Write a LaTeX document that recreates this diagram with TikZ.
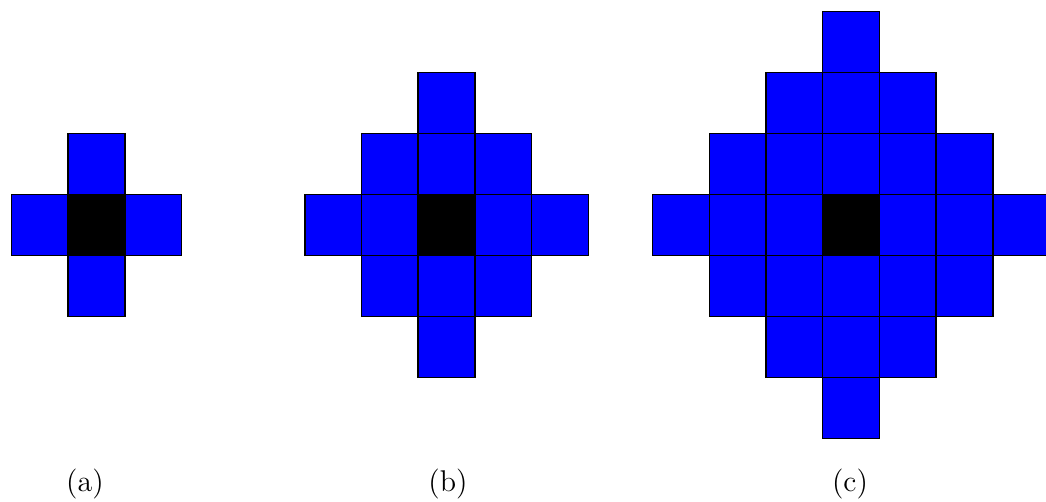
\documentclass[tikz,border=0pt]{standalone}
\definecolor{cellblue}{RGB}{0,0,255}
\tikzset{
  cell/.style={draw=black,fill=cellblue,line width=0.6pt},
  core/.style={draw=black,fill=black,line width=0.6pt},
  caption/.style={font=\fontsize{12}{14}\selectfont,anchor=base},
}
\newcommand{\cw}{56.7}
\newcommand{\ch}{61}
\begin{document}
\begin{tikzpicture}[x=0.4pt,y=-0.4pt]
  \useasboundingbox (0,0) rectangle (1046,501);
  % diamonds of radius 1, 2, 3
  \foreach \cx/\r in {96.5/1,446.5/2,851/3}{
    \pgfmathtruncatemacro\lo{-\r}
    \foreach \i in {\lo,...,\r}{
      \foreach \j in {\lo,...,\r}{
        \pgfmathtruncatemacro\dist{abs(\i)+abs(\j)}
        \ifnum\dist>\r\relax\else
          \draw[cell] ({\cx+(\i-0.5)*\cw},{225+(\j-0.5)*\ch}) rectangle ({\cx+(\i+0.5)*\cw},{225+(\j+0.5)*\ch});
        \fi
      }
    }
    \draw[core] ({\cx-0.5*\cw},{225-0.5*\ch}) rectangle ({\cx+0.5*\cw},{225+0.5*\ch});
  }
  \node[caption] (capa) at (85,491) {(a)};
  \node[caption] (capb) at (448,491) {(b)};
  \node[caption] (capc) at (850,491) {(c)};
\end{tikzpicture}
\end{document}
